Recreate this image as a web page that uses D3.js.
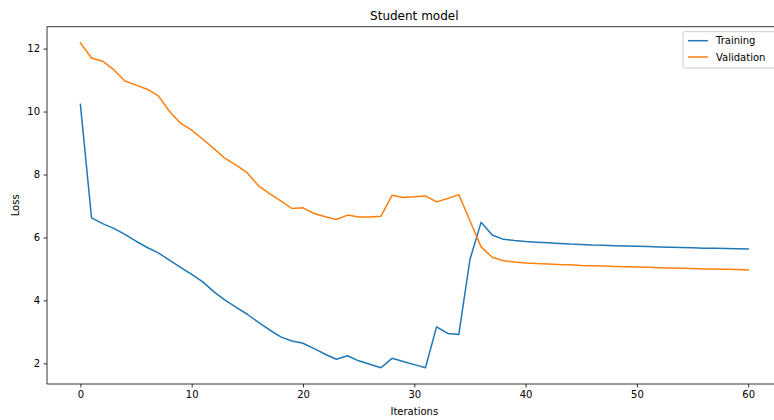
<!DOCTYPE html>
<html>
<head>
<meta charset="utf-8">
<script src="https://cdn.jsdelivr.net/npm/d3@7"></script>
<style>
  html, body { margin: 0; padding: 0; background: #fff; }
  svg { display: block; font-family: "DejaVu Sans", sans-serif; }
</style>
</head>
<body>
<svg id="chart" width="774" height="420"></svg>
<script>
// Loss per iteration for the student model
const iterations = d3.range(0, 61);

const trainingLoss = [
  10.23, 6.62, 6.44, 6.29, 6.10, 5.88, 5.68, 5.51, 5.28, 5.05,
  4.83, 4.59, 4.27, 4.01, 3.78, 3.56, 3.30, 3.06, 2.84, 2.71,
  2.64, 2.47, 2.29, 2.13, 2.24, 2.08, 1.97, 1.86, 2.16, 2.06,
  1.96, 1.86, 3.16, 2.95, 2.92, 5.30, 6.48, 6.08, 5.94, 5.90,
  5.87, 5.85, 5.83, 5.81, 5.79, 5.78, 5.76, 5.75, 5.74, 5.73,
  5.72, 5.71, 5.70, 5.69, 5.68, 5.67, 5.66, 5.66, 5.65, 5.64,
  5.63
];

const validationLoss = [
  12.18, 11.70, 11.60, 11.33, 10.97, 10.84, 10.71, 10.50, 10.01, 9.63,
  9.41, 9.12, 8.82, 8.51, 8.30, 8.05, 7.64, 7.39, 7.16, 6.92,
  6.94, 6.76, 6.66, 6.57, 6.71, 6.65, 6.65, 6.67, 7.34, 7.27,
  7.29, 7.32, 7.13, 7.24, 7.36, 6.53, 5.70, 5.37, 5.26, 5.22,
  5.19, 5.17, 5.16, 5.14, 5.13, 5.11, 5.10, 5.09, 5.08, 5.07,
  5.06, 5.05, 5.04, 5.03, 5.02, 5.01, 5.00, 5.00, 4.99, 4.98,
  4.97
];

const xTicks = [0, 10, 20, 30, 40, 50, 60];
const yTicks = [2, 4, 6, 8, 10, 12];

const seriesNames = ["Training", "Validation"];
const seriesColors = ["#1f77b4", "#ff7f0e"];

(function () {
  const svg = d3.select("#chart");

  // Plot area (the axes box runs past the right edge of the page)
  const pLeft = 47, pRight = 781.6, pTop = 26.7, pBottom = 384;

  // 5% padding on both axes, as the plotting default
  function padded(lo, hi) {
    const p = (hi - lo) * 0.05;
    return [lo - p, hi + p];
  }
  const xDom = padded(d3.min(iterations), d3.max(iterations));
  const allVals = trainingLoss.concat(validationLoss);
  const yDom = padded(d3.min(allVals), d3.max(allVals));

  const x = d3.scaleLinear().domain(xDom).range([pLeft, pRight]);
  const y = d3.scaleLinear().domain(yDom).range([pBottom, pTop]);

  // Axes
  const xAxis = d3.axisBottom(x).tickValues(xTicks).tickSize(3.5).tickPadding(3.5)
    .tickFormat(d3.format("d"));
  const yAxis = d3.axisLeft(y).tickValues(yTicks).tickSize(3.5).tickPadding(3.5)
    .tickFormat(d3.format("d"));

  const gx = svg.append("g").attr("transform", `translate(0,${pBottom})`).call(xAxis);
  const gy = svg.append("g").attr("transform", `translate(${pLeft},0)`).call(yAxis);

  [gx, gy].forEach(g => {
    g.select(".domain").remove();
    g.selectAll(".tick line").attr("stroke", "#000").attr("stroke-width", 0.8);
    g.selectAll(".tick text").attr("fill", "#000").attr("font-size", 10)
      .attr("font-family", "DejaVu Sans, sans-serif");
  });

  // Spines: left, bottom and top (the right one is off the page)
  svg.append("path")
    .attr("d", `M${pLeft},${pTop}H${pRight}M${pLeft},${pTop}V${pBottom}H${pRight}`)
    .attr("fill", "none").attr("stroke", "#000").attr("stroke-width", 0.8);

  // Lines
  const line = d3.line().x((d, i) => x(iterations[i])).y(d => y(d));
  svg.append("clipPath").attr("id", "plotClip")
    .append("rect").attr("x", pLeft).attr("y", pTop)
    .attr("width", pRight - pLeft).attr("height", pBottom - pTop);

  [trainingLoss, validationLoss].forEach((vals, k) => {
    svg.append("path")
      .datum(vals)
      .attr("clip-path", "url(#plotClip)")
      .attr("fill", "none")
      .attr("stroke", seriesColors[k])
      .attr("stroke-width", 1.5)
      .attr("stroke-linejoin", "round")
      .attr("stroke-linecap", "square")
      .attr("d", line);
  });

  // Title and axis labels
  svg.append("text")
    .attr("x", (pLeft + pRight) / 2).attr("y", 20)
    .attr("text-anchor", "middle").attr("font-size", 12).attr("fill", "#000")
    .text("Student model");

  svg.append("text")
    .attr("x", (pLeft + pRight) / 2).attr("y", 415)
    .attr("text-anchor", "middle").attr("font-size", 10).attr("fill", "#000")
    .text("Iterations");

  svg.append("text")
    .attr("transform", `translate(18.5,${(pTop + pBottom) / 2}) rotate(-90)`)
    .attr("text-anchor", "middle").attr("font-size", 10).attr("fill", "#000")
    .text("Loss");

  // Legend (upper right)
  const legend = svg.append("g");
  const lgLeft = 683, lgTop = 31.7, lgRight = pRight - 5, lgBottom = 68;
  legend.append("rect")
    .attr("x", lgLeft).attr("y", lgTop)
    .attr("width", lgRight - lgLeft).attr("height", lgBottom - lgTop)
    .attr("rx", 2).attr("ry", 2)
    .attr("fill", "#fff").attr("fill-opacity", 0.8)
    .attr("stroke", "#cccccc").attr("stroke-width", 1);

  seriesNames.forEach((name, k) => {
    const cy = 40.7 + k * 16.3;
    legend.append("line")
      .attr("x1", 688).attr("x2", 708).attr("y1", cy).attr("y2", cy)
      .attr("stroke", seriesColors[k]).attr("stroke-width", 1.5);
    legend.append("text")
      .attr("x", 716).attr("y", cy + 3.6)
      .attr("font-size", 10).attr("fill", "#000")
      .text(name);
  });
})();
</script>
</body>
</html>
